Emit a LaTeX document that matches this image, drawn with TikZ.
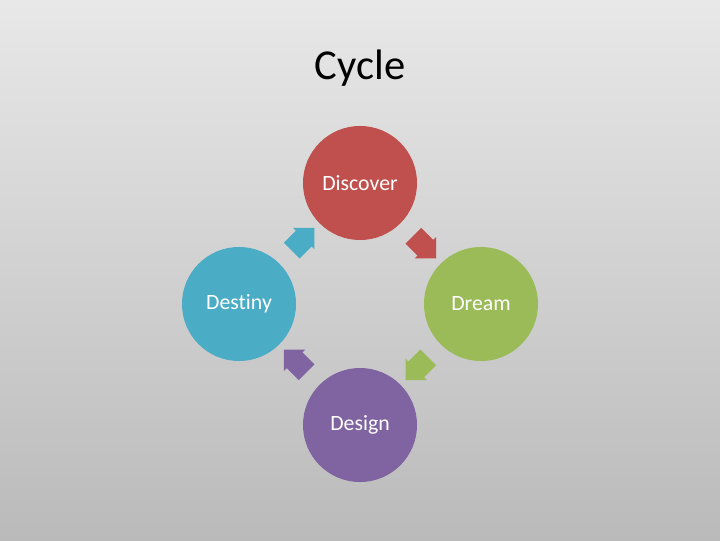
\documentclass[tikz,border=0pt]{standalone}
\usepackage{fontspec}
\setmainfont[Ligatures=NoCommon]{Carlito}
\usetikzlibrary{shapes.arrows}
\definecolor{discred}{HTML}{C0504D}
\definecolor{dreamgreen}{HTML}{9BBB59}
\definecolor{designpurple}{HTML}{8064A2}
\definecolor{destinyblue}{HTML}{4BACC6}
\tikzset{
  phase/.style={circle, fill=#1, minimum size=2.85cm, inner sep=0pt, text=white,
    font=\fontsize{15.5}{18}\selectfont},
  turn/.style={single arrow, fill=#1, minimum height=0.8cm, inner xsep=0pt,
    inner ysep=0.27cm, single arrow head extend=0.1cm, anchor=center}
}
\begin{document}
\begin{tikzpicture}[x=0.025cm, y=0.025cm]
\newcommand{\cycr}{121}
\newcommand{\arrr}{86}
% Background
\shade[top color=black!9, bottom color=black!27] (0,0) rectangle (720,540);
\useasboundingbox (0,0) rectangle (720,540);

% Title
\node (title) at (360,472) {\fontsize{30.3}{36}\selectfont Cycle};

% Phases
\coordinate (mid) at (360,236);
\node[phase=discred] (discover) at ([shift={(90:\cycr)}]mid) {Discover};
\node[phase=dreamgreen] (dream) at ([shift={(0:\cycr)}]mid) {Dream};
\node[phase=designpurple] (design) at ([shift={(-90:\cycr)}]mid) {Design};
\node[phase=destinyblue] (destiny) at ([shift={(180:\cycr)}]mid) {Destiny};

% Arrows between phases
\node[turn=discred, rotate=-45] (a1) at ([shift={(45:\arrr)}]mid) {};
\node[turn=dreamgreen, rotate=-135] (a2) at ([shift={(-45:\arrr)}]mid) {};
\node[turn=designpurple, rotate=135] (a3) at ([shift={(-135:\arrr)}]mid) {};
\node[turn=destinyblue, rotate=45] (a4) at ([shift={(135:\arrr)}]mid) {};

\end{tikzpicture}
\end{document}
